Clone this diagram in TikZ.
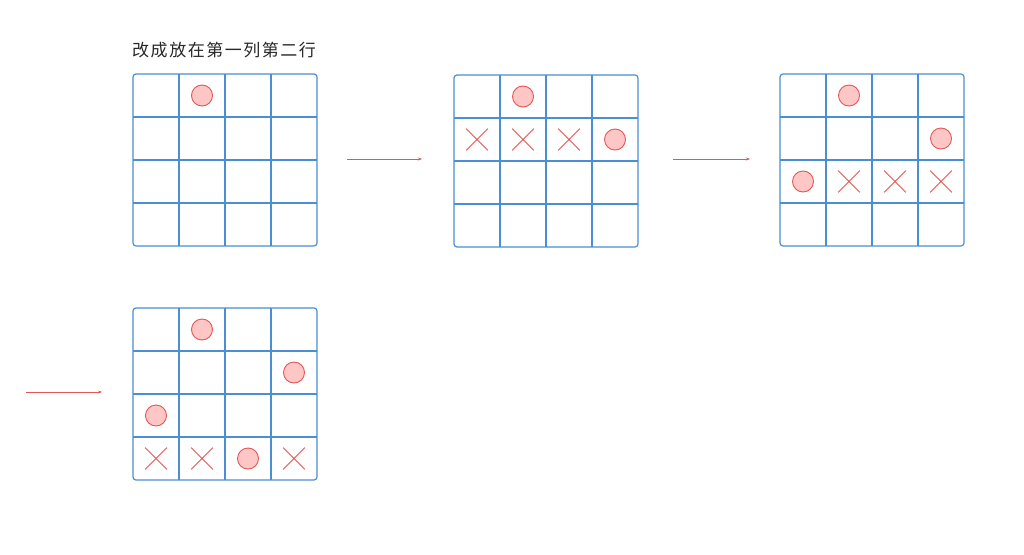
\documentclass[tikz,border=0pt]{standalone}
\usepackage{fontspec}
\newfontfamily\cjkfont[LetterSpace=9]{Noto Sans CJK SC}
\usepackage{xcolor}
\usetikzlibrary{arrows.meta,calc,positioning,shapes.misc}

\definecolor{gridblue}{RGB}{74,142,212}
\definecolor{markred}{RGB}{228,86,86}
\definecolor{markfill}{RGB}{255,198,198}
\definecolor{titlegray}{RGB}{40,40,40}

% board: name, left, top (pixel units, y downwards)
\newcommand{\board}[3]{%
  \node[board, anchor=north west] (#1) at (#2,#3) {};
  \foreach \i in {1,2,3} {
    \draw[gridline] ($(#1.north west)+(46*\i,0)$) -- ($(#1.south west)+(46*\i,0)$);
    \draw[gridline] ($(#1.north west)+(0,43*\i)$) -- ($(#1.north east)+(0,43*\i)$);
  }%
}
% marks: board, row, column
\newcommand{\queen}[3]{\node[ring] (#1-#2#3) at ($(#1.north west)+(46*#3-23,43*#2-21.5)$) {};}
\newcommand{\nope}[3]{\node[cross] (#1-#2#3) at ($(#1.north west)+(46*#3-23,43*#2-21.5)$) {};}

\begin{document}
\begin{tikzpicture}[
  x=1pt, y=-1pt,
  board/.style={draw=gridblue, line width=1.2pt, rounded corners=3pt, minimum width=184pt, minimum height=172pt, inner sep=0pt, outer sep=0pt},
  gridline/.style={draw=gridblue, line width=1.1pt},
  ring/.style={circle, draw=markred, fill=markfill, line width=0.9pt, minimum size=21pt, inner sep=0pt},
  cross/.style={cross out, draw=markred, line width=0.8pt, minimum size=21pt, inner sep=0pt},
  arrow/.style={-{Stealth[length=4pt,width=3pt]}, draw=markred, line width=0.8pt},
  title/.style={font=\cjkfont\fontsize{17}{20}\selectfont, text=titlegray, inner sep=0pt}
]
\useasboundingbox (0,0) rectangle (1024,554);

\node[title, anchor=base west] (title) at (132,56.5) {改成放在第一列第二行};

\board{b1}{133}{74}
\board{b2}{454}{75}
\board{b3}{780}{74}
\board{b4}{133}{308}

% step 1
\queen{b1}{1}{2}
% step 2
\queen{b2}{1}{2}
\nope{b2}{2}{1} \nope{b2}{2}{2} \nope{b2}{2}{3}
\queen{b2}{2}{4}
% step 3
\queen{b3}{1}{2}
\queen{b3}{2}{4}
\queen{b3}{3}{1}
\nope{b3}{3}{2} \nope{b3}{3}{3} \nope{b3}{3}{4}
% step 4
\queen{b4}{1}{2}
\queen{b4}{2}{4}
\queen{b4}{3}{1}
\nope{b4}{4}{1} \nope{b4}{4}{2}
\queen{b4}{4}{3}
\nope{b4}{4}{4}

\coordinate (a1s) at (347,159);
\coordinate (a1e) at (422,159);
\coordinate (a2s) at (673,159);
\coordinate (a2e) at (750,159);
\coordinate (a3s) at (26,392);
\coordinate (a3e) at (102,392);
\draw[arrow] (a1s) -- (a1e);
\draw[arrow] (a2s) -- (a2e);
\draw[arrow] (a3s) -- (a3e);
\end{tikzpicture}
\end{document}
